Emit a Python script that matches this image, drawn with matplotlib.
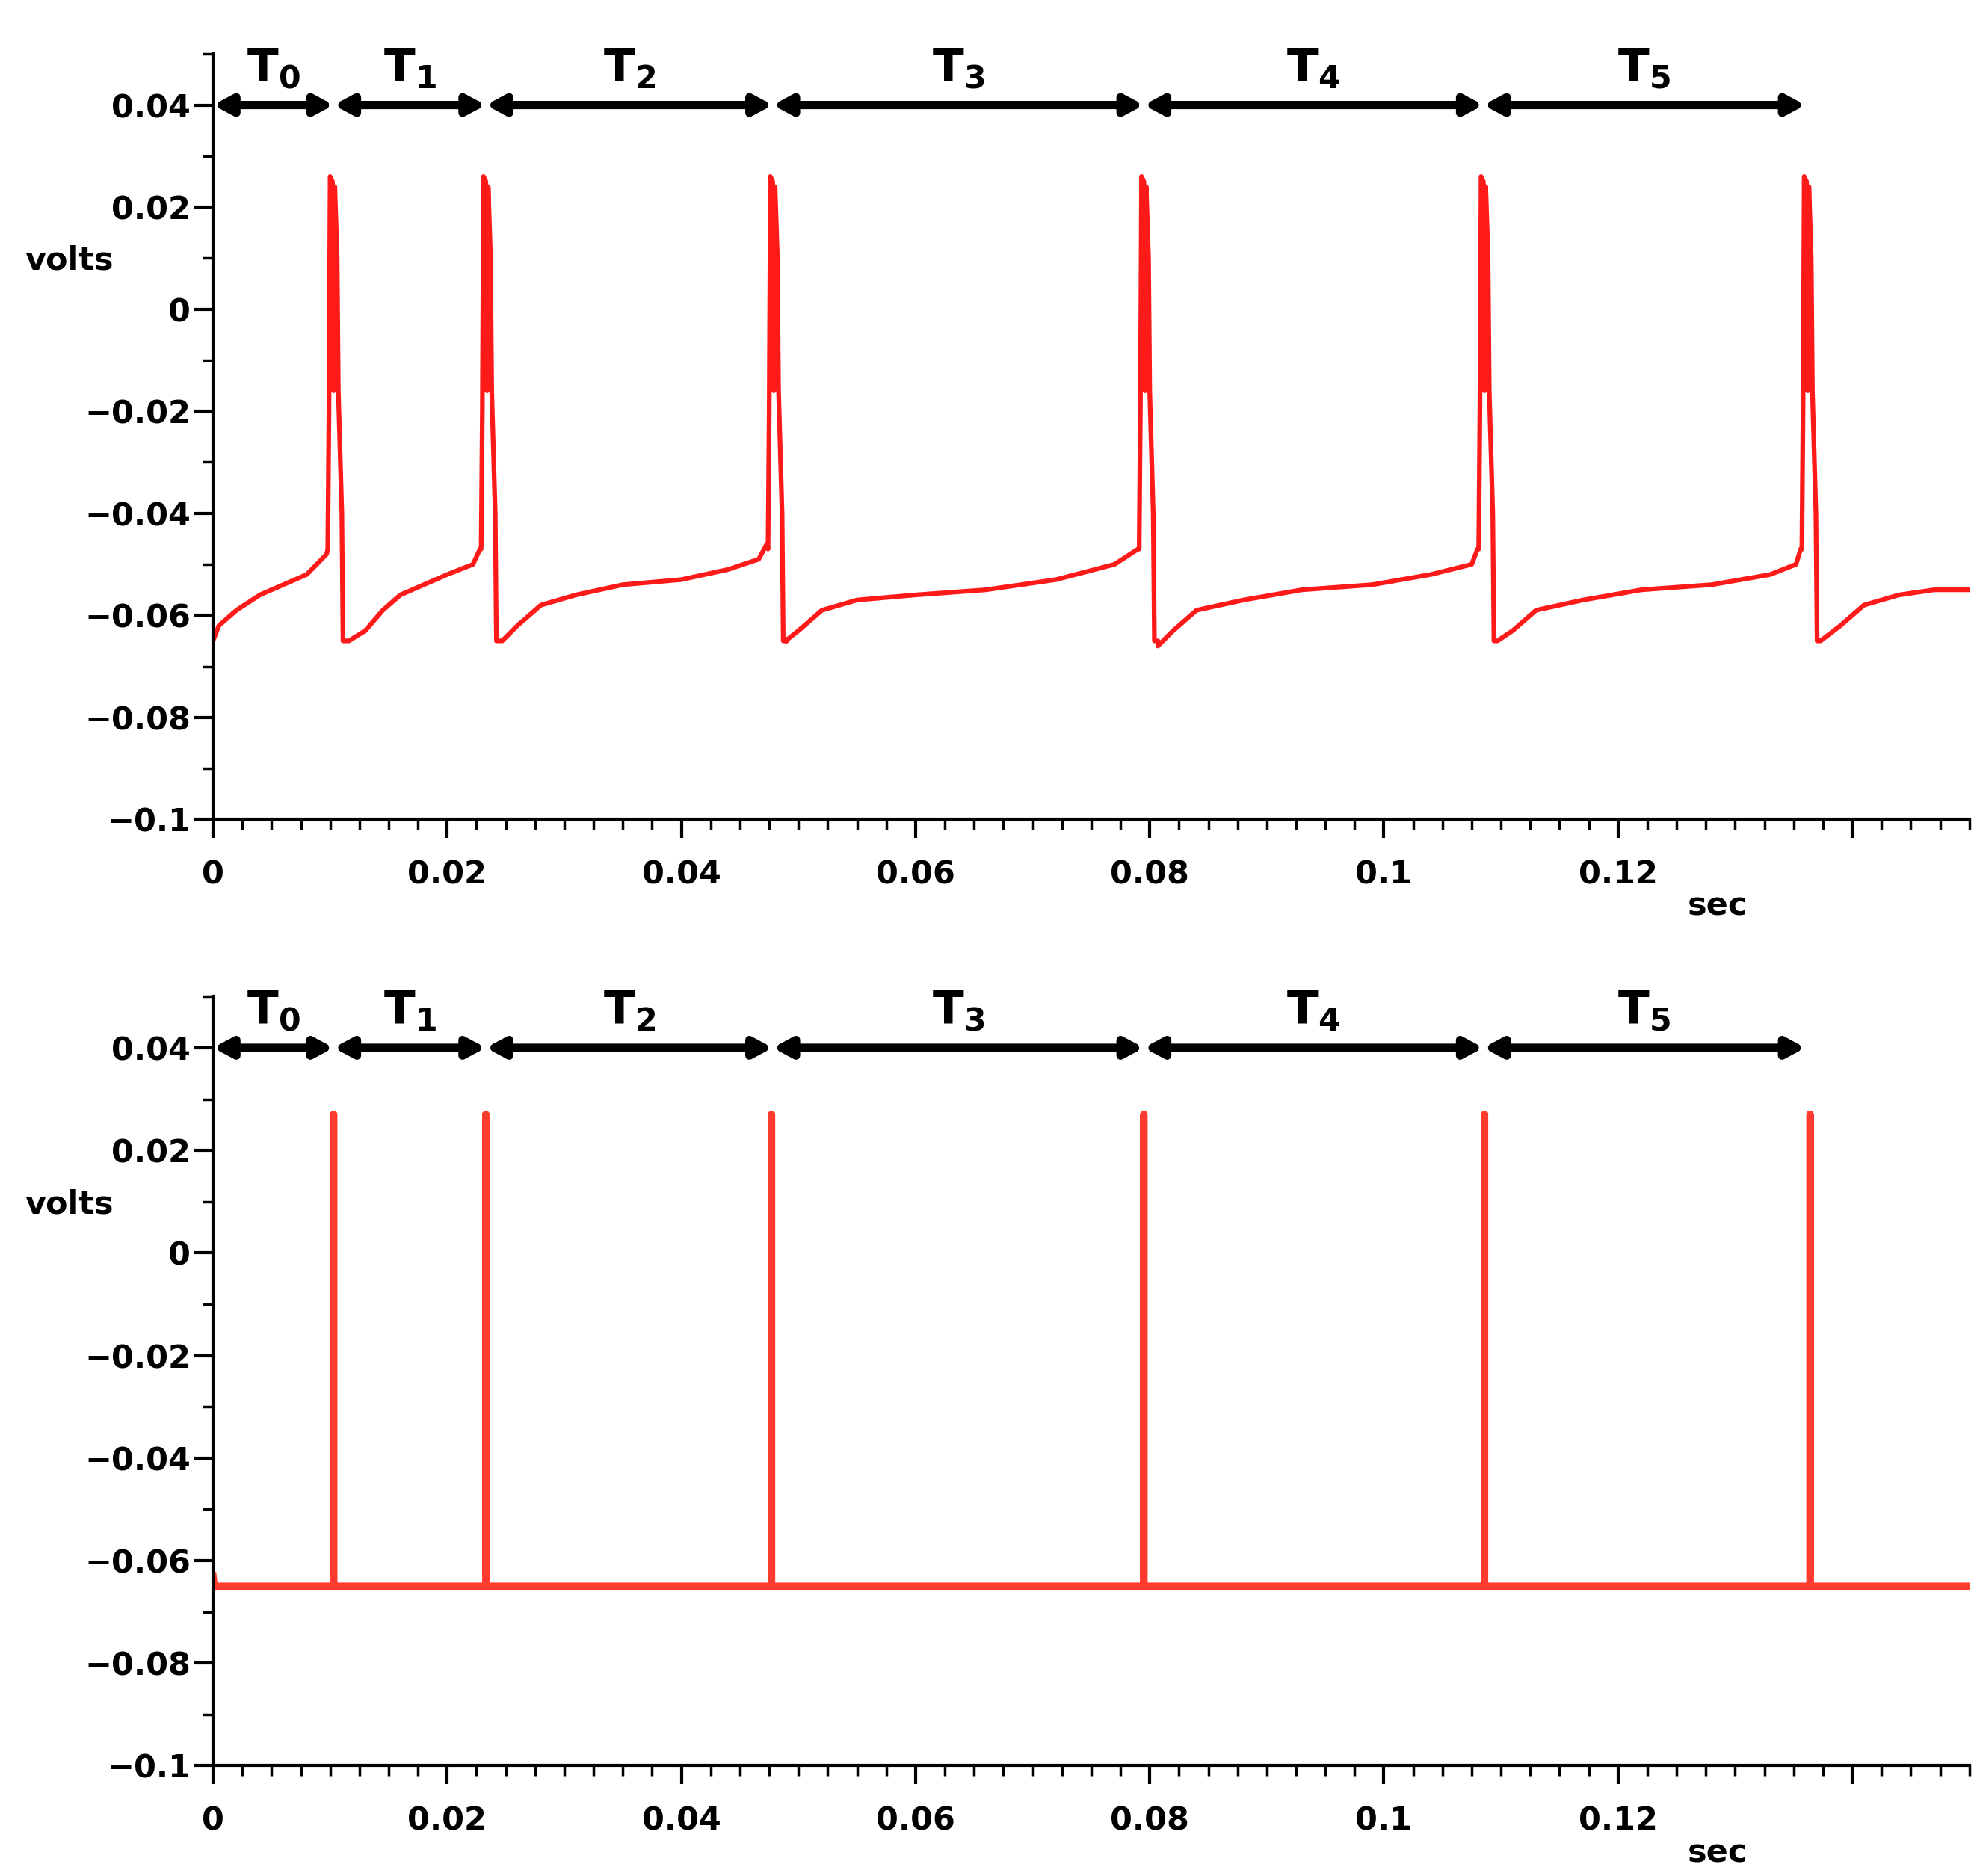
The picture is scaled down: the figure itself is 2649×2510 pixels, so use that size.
import matplotlib
matplotlib.use("Agg")
import matplotlib.pyplot as plt
import numpy as np

spike_times = [0.0098, 0.0229, 0.0474, 0.0791, 0.1081, 0.1357]
bounds = [0.0, 0.0103, 0.0233, 0.0478, 0.0795, 0.1085, 0.136]
labels = ["T$_\\mathbf{0}$", "T$_\\mathbf{1}$", "T$_\\mathbf{2}$", "T$_\\mathbf{3}$", "T$_\\mathbf{4}$", "T$_\\mathbf{5}$"]

# spike waveform: offsets from onset and voltages
spike_dt = [0.0, 0.0001, 0.0002, 0.0004, 0.0005, 0.0006, 0.0008, 0.0009, 0.0012, 0.0013, 0.0016]
spike_v = [-0.047, -0.02, 0.026, 0.025, -0.016, 0.024, 0.010, -0.016, -0.040, -0.065, -0.065]

# recovery segments between spikes (time, voltage)
rec_t = [
    [0.0, 0.0005, 0.002, 0.004, 0.006, 0.008, 0.0097],
    [0.0116, 0.013, 0.0145, 0.016, 0.018, 0.020, 0.0222, 0.0228],
    [0.0247, 0.026, 0.028, 0.031, 0.035, 0.040, 0.044, 0.0466, 0.0473],
    [0.0489, 0.050, 0.052, 0.055, 0.060, 0.066, 0.072, 0.077, 0.0790],
    [0.0807, 0.082, 0.084, 0.088, 0.093, 0.099, 0.104, 0.1075, 0.1080],
    [0.1097, 0.111, 0.113, 0.117, 0.122, 0.128, 0.133, 0.1352, 0.1356],
    [0.1373, 0.139, 0.141, 0.144, 0.147, 0.150],
]
rec_v = [
    [-0.065, -0.062, -0.059, -0.056, -0.054, -0.052, -0.048],
    [-0.065, -0.063, -0.059, -0.056, -0.054, -0.052, -0.050, -0.047],
    [-0.065, -0.062, -0.058, -0.056, -0.054, -0.053, -0.051, -0.049, -0.046],
    [-0.065, -0.063, -0.059, -0.057, -0.056, -0.055, -0.053, -0.050, -0.047],
    [-0.066, -0.063, -0.059, -0.057, -0.055, -0.054, -0.052, -0.050, -0.047],
    [-0.065, -0.063, -0.059, -0.057, -0.055, -0.054, -0.052, -0.050, -0.047],
    [-0.065, -0.062, -0.058, -0.056, -0.055, -0.055],
]

t, v = [], []
for i in range(len(rec_t)):
    t += rec_t[i]; v += rec_v[i]
    if i < len(spike_times):
        t += [spike_times[i] + d for d in spike_dt]; v += spike_v

bottom_rest = -0.065
bottom_peak = 0.027
bottom_spikes = [0.0103, 0.0233, 0.0477, 0.0795, 0.1086, 0.1364]

fig = plt.figure(figsize=(26.49, 25.10), dpi=100)
fs = 31
ax1 = fig.add_axes([0.1076, 0.5632, 0.887, 0.408])
ax2 = fig.add_axes([0.1076, 0.0588, 0.887, 0.410])

def style(ax):
    ax.set_xlim(0, 0.150)
    ax.set_ylim(-0.1, 0.05)
    for s in ["top", "right"]:
        ax.spines[s].set_visible(False)
    for s in ["left", "bottom"]:
        ax.spines[s].set_linewidth(3)
    ax.set_xticks([0, 0.02, 0.04, 0.06, 0.08, 0.1, 0.12, 0.14])
    ax.set_xticklabels(["0", "0.02", "0.04", "0.06", "0.08", "0.1", "0.12", ""])
    ax.set_xticks(np.arange(0, 0.1501, 0.0025), minor=True)
    yt = [-0.1, -0.08, -0.06, -0.04, -0.02, 0, 0.02, 0.04]
    ax.set_yticks(yt)
    ax.set_yticklabels(["\u22120.1", "\u22120.08", "\u22120.06", "\u22120.04", "\u22120.02", "0", "0.02", "0.04"])
    ax.set_yticks(np.arange(-0.1, 0.0501, 0.01), minor=True)
    ax.tick_params(which="major", length=18, width=3, labelsize=fs)
    ax.tick_params(axis="x", which="major", pad=20)
    ax.tick_params(which="minor", length=10, width=2.5)
    for lab in ax.get_xticklabels() + ax.get_yticklabels():
        lab.set_fontweight("bold")
    ax.text(-0.0085, 0.0095, "volts", ha="right", va="center",
            fontsize=fs, fontweight="bold", clip_on=False)
    ax.text(0.1285, -0.117, "sec", ha="center", va="center", fontsize=fs, fontweight="bold", clip_on=False)
    for i in range(len(bounds) - 1):
        ax.annotate("", xy=(bounds[i], 0.04), xytext=(bounds[i + 1], 0.04),
                    arrowprops=dict(arrowstyle="<|-|>,head_length=1.4,head_width=0.75",
                                    color="black", lw=8, shrinkA=0, shrinkB=0))
        ax.text((bounds[i] + bounds[i + 1]) / 2, 0.047, labels[i], ha="center", va="center",
                fontsize=44, fontweight="bold")

style(ax1)
style(ax2)
ax1.plot(t, v, color="#ff1a1a", lw=4.5)

bt = [0.0, 0.0001]
bv = [-0.063, bottom_rest]
for s in bottom_spikes:
    bt += [s, s, s]; bv += [bottom_rest, bottom_peak, bottom_rest]
bt.append(0.150); bv.append(bottom_rest)
ax2.plot(bt, bv, color="#ff3b30", lw=7)

fig.savefig("out.png", dpi=100)
